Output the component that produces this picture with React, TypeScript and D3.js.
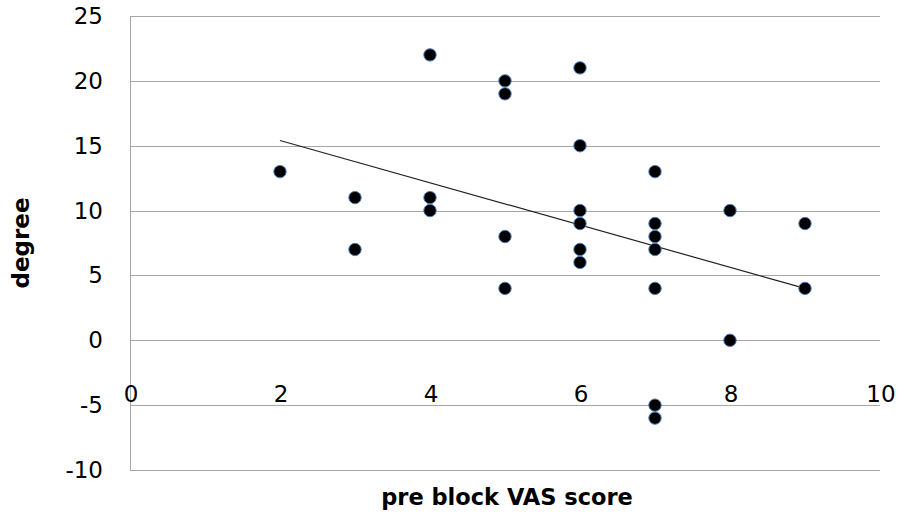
import React from "react";
import { scaleLinear, line } from "d3";

const W = 903;
const H = 520;
const MARGIN = { top: 16, right: 23, bottom: 50, left: 130 };
const GRID = "#a6a6a6";
const DOT_EDGE = "#4a7ebb";
const FONT = "'DejaVu Sans', sans-serif";

// pre block VAS score / degree pairs
const vasScores = [2, 3, 3, 4, 4, 4, 5, 5, 5, 5, 6, 6, 6, 6, 6, 6, 7, 7, 7, 7, 7, 7, 7, 8, 8, 9, 9];
const degrees = [13, 11, 7, 22, 11, 10, 20, 19, 8, 4, 21, 15, 10, 9, 7, 6, 13, 9, 8, 7, 4, -5, -6, 10, 0, 9, 4];

// linear trendline end points
const trendX = [2, 9];
const trendY = [15.4, 4.0];

const xTicks = [0, 2, 4, 6, 8, 10];
const yTicks = [-10, -5, 0, 5, 10, 15, 20, 25];

export default function App() {
  const x = scaleLinear().domain([0, 10]).range([MARGIN.left, W - MARGIN.right]);
  const y = scaleLinear().domain([-10, 25]).range([H - MARGIN.bottom, MARGIN.top]);

  const trend = line<number>()
    .x((d) => x(d))
    .y((d, i) => y(trendY[i]));

  const points = vasScores.map((v, i) => ({ v, d: degrees[i] }));

  return (
    <svg
      width={W}
      height={H}
      style={{ position: "fixed", left: 0, top: 0, background: "#fff" }}
    >
      {/* horizontal gridlines */}
      {yTicks.map((t) => (
        <line
          key={"g" + t}
          x1={x(0)}
          x2={x(10)}
          y1={Math.round(y(t)) + 0.5}
          y2={Math.round(y(t)) + 0.5}
          stroke={GRID}
          strokeWidth={1}
        />
      ))}
      {/* vertical axis */}
      <line
        x1={x(0) + 0.5}
        x2={x(0) + 0.5}
        y1={Math.round(y(25)) + 0.5}
        y2={Math.round(y(-10)) + 0.5}
        stroke={GRID}
        strokeWidth={1}
      />

      {/* y tick labels */}
      {yTicks.map((t) => (
        <text
          key={"yl" + t}
          x={103}
          y={y(t)}
          textAnchor="end"
          dominantBaseline="central"
          fontFamily={FONT}
          fontSize={23}
          fill="#000"
        >
          {t}
        </text>
      ))}

      {/* x tick labels */}
      {xTicks.map((t) => (
        <text
          key={"xl" + t}
          x={x(t) + 1}
          y={402}
          textAnchor="middle"
          fontFamily={FONT}
          fontSize={23}
          fill="#000"
        >
          {t}
        </text>
      ))}

      {/* trendline */}
      <path d={trend(trendX) || ""} fill="none" stroke="#222" strokeWidth={1.2} />

      {/* points */}
      {points.map((p, i) => (
        <circle
          key={"p" + i}
          cx={x(p.v)}
          cy={y(p.d)}
          r={6.2}
          fill="#000"
          stroke={DOT_EDGE}
          strokeWidth={1}
        />
      ))}

      {/* axis titles */}
      <text
        x={(x(0) + x(10)) / 2 + 2}
        y={505}
        textAnchor="middle"
        fontFamily={FONT}
        fontWeight="bold"
        fontSize={22.5}
        fill="#000"
      >
        pre block VAS score
      </text>
      <text
        transform={`translate(29, ${(y(25) + y(-10)) / 2}) rotate(-90)`}
        textAnchor="middle"
        fontFamily={FONT}
        fontWeight="bold"
        fontSize={23}
        fill="#000"
      >
        degree
      </text>
    </svg>
  );
}
